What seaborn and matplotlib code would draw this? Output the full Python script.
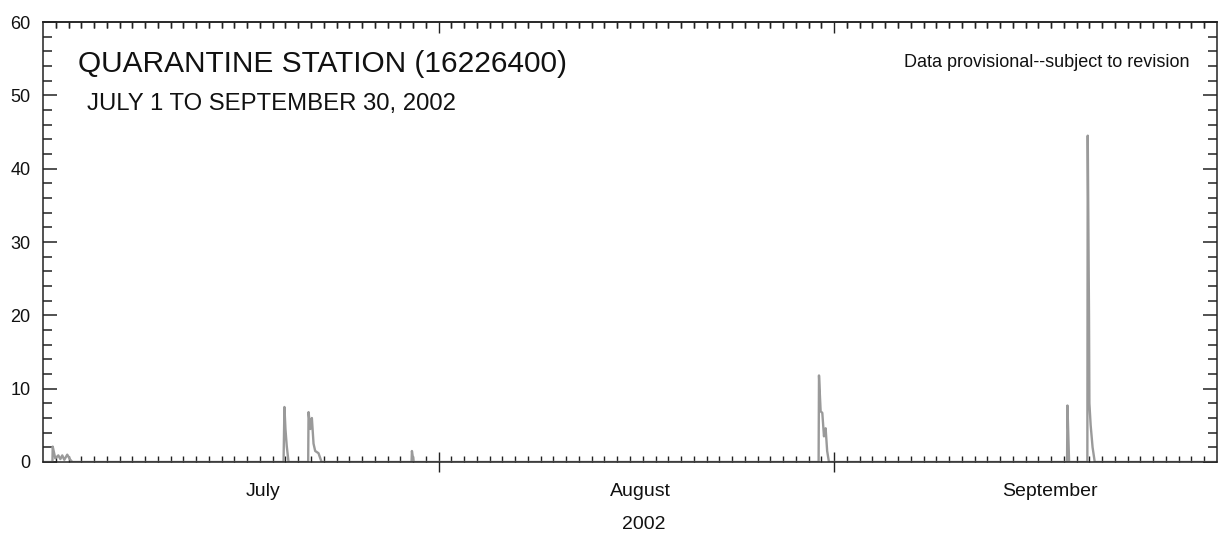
import matplotlib
matplotlib.use("Agg")
import matplotlib.pyplot as plt
import seaborn as sns
import pandas as pd
from matplotlib.ticker import FixedLocator, NullFormatter

# ---- data (days since July 1, 2002, 00:00) ----
days = [
    0.00, 0.74, 0.76, 0.80, 0.96, 1.20, 1.36, 1.51, 1.67, 1.90, 2.14, 2.30,
    18.85, 18.92, 19.00, 19.10, 19.24,
    20.78, 20.81, 20.95, 21.07, 21.20, 21.33, 21.59, 21.83,
    28.88, 28.91, 29.04,
    60.78, 60.81, 60.94, 61.07, 61.20, 61.33, 61.45, 61.59,
    80.25, 80.28, 80.41,
    81.84, 81.87, 81.97, 82.00, 82.10, 82.25, 82.42,
    92.00,
]
discharge = [
    0, 0, 2.1, 1.8, 0.5, 0.9, 0.4, 0.9, 0.3, 1.0, 0.3, 0,
    0, 7.5, 4.5, 2.2, 0,
    0, 6.8, 4.5, 6.0, 2.5, 1.5, 1.2, 0,
    0, 1.5, 0,
    0, 11.8, 6.9, 6.7, 3.5, 4.6, 1.5, 0,
    0, 7.7, 0,
    0, 44.5, 20.0, 8.0, 5.0, 2.0, 0,
    0,
]
month_starts = [0, 31, 62, 92]
month_names = ["July", "August", "September"]
year_label = "2002"
title = "QUARANTINE STATION (16226400)"
subtitle = "JULY 1 TO SEPTEMBER 30, 2002"
note = "Data provisional--subject to revision"
y_major = list(range(0, 61, 10))
y_minor = list(range(0, 61, 2))

df = pd.DataFrame({"day": days, "q": discharge})

sns.set_theme(style="white")
plt.rcParams["font.family"] = ["Liberation Sans", "DejaVu Sans"]

W, H = 1220, 533
fig = plt.figure(figsize=(W / 100, H / 100), dpi=100)
ax = fig.add_axes([43 / W, 1 - 462 / H, (1217 - 43) / W, (462 - 22) / H])

sns.lineplot(data=df, x="day", y="q", ax=ax, color="#9a9a9a",
             linewidth=1.7, estimator=None, sort=False)

ax.set_xlim(month_starts[0], month_starts[-1])
ax.set_ylim(0, 60)
ax.set_xlabel("")
ax.set_ylabel("")

for s in ax.spines.values():
    s.set_visible(True)
    s.set_linewidth(1.1)
    s.set_color("#222222")

# x ticks: daily minor, month-boundary major
ax.xaxis.set_major_locator(FixedLocator(month_starts[1:-1]))
ax.xaxis.set_minor_locator(FixedLocator(list(range(1, month_starts[-1]))))
ax.xaxis.set_major_formatter(NullFormatter())
ax.tick_params(axis="x", which="major", direction="inout", length=15,
               width=1.0, color="#222222", bottom=True, top=False,
               labelbottom=False)
ax.tick_params(axis="x", which="minor", direction="in", length=4.3,
               width=1.0, color="#222222", bottom=True, top=True)

top = ax.secondary_xaxis("top")
top.xaxis.set_major_locator(FixedLocator(month_starts[1:-1]))
top.xaxis.set_minor_locator(FixedLocator(list(range(1, month_starts[-1]))))
top.xaxis.set_major_formatter(NullFormatter())
top.tick_params(axis="x", which="major", direction="in", length=8,
                width=1.0, color="#222222", labeltop=False)
top.tick_params(axis="x", which="minor", direction="in", length=4.3,
                width=1.0, color="#222222")
top.spines["top"].set_linewidth(1.1)
top.spines["top"].set_color("#222222")

# y ticks
ax.yaxis.set_major_locator(FixedLocator(y_major))
ax.yaxis.set_minor_locator(FixedLocator(y_minor))
ax.tick_params(axis="y", which="major", direction="in", length=10,
               width=1.1, color="#222222", left=True, right=True,
               labelsize=13, pad=9, labelcolor="#111111")
ax.tick_params(axis="y", which="minor", direction="in", length=6.5,
               width=1.1, color="#222222", left=True, right=True)


def fx(px):
    return px / W


def fy(py):
    return 1 - py / H


month_px = [263, 640, 1050]
for name, px in zip(month_names, month_px):
    fig.text(fx(px), fy(496), name, ha="center", va="baseline",
             fontsize=14, color="#111111")
fig.text(fx(644), fy(529), year_label, ha="center", va="baseline",
         fontsize=14, color="#111111")

fig.text(fx(78), fy(72), title, ha="left", va="baseline",
         fontsize=21.5, color="#111111")
fig.text(fx(87), fy(110), subtitle, ha="left", va="baseline",
         fontsize=17.2, color="#111111")
fig.text(fx(1190), fy(67), note, ha="right", va="baseline",
         fontsize=13, color="#111111")

fig.savefig("out.png", dpi=100)
